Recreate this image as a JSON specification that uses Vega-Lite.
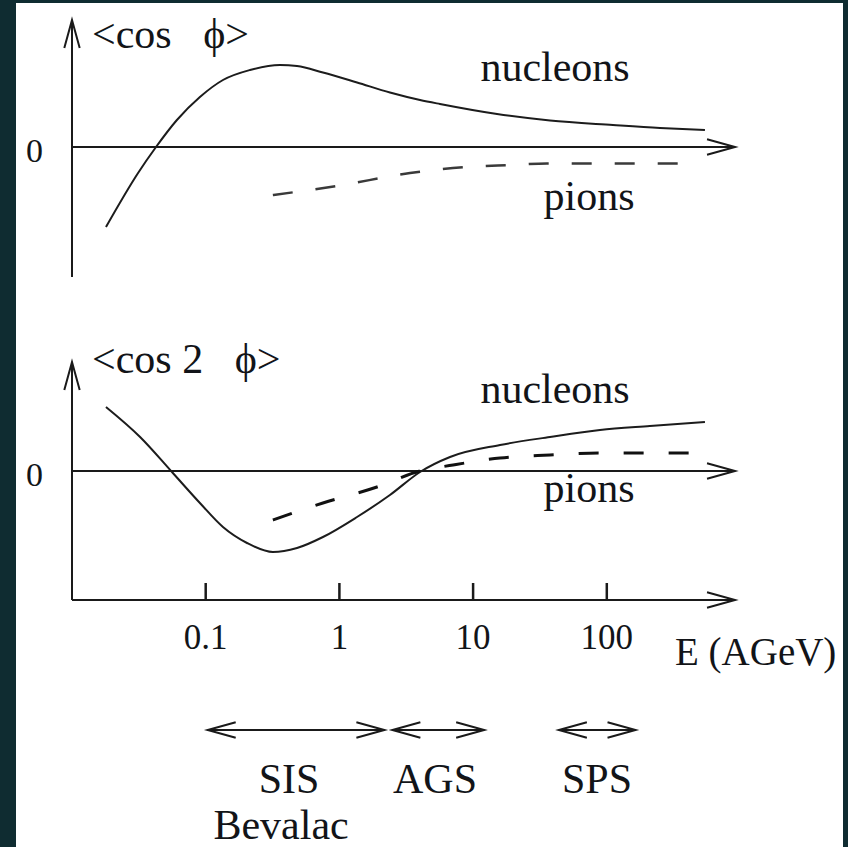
{
  "$schema": "https://vega.github.io/schema/vega-lite/v6.json",
  "width": 827,
  "height": 844,
  "autosize": {"type": "none"},
  "padding": {"left": 16, "top": 3, "right": 5, "bottom": 0},
  "background": "#0f2c31",
  "config": {
    "view": {"fill": "#ffffff", "stroke": null},
    "text": {"font": "Liberation Serif", "color": "#121418", "baseline": "alphabetic"}
  },
  "datasets": {
    "curves": [
      {"panel": "top", "species": "nucleons", "E": 0.01795, "v": -0.80},
      {"panel": "top", "species": "nucleons", "E": 0.0312, "v": -0.26},
      {"panel": "top", "species": "nucleons", "E": 0.0425, "v": 0.0},
      {"panel": "top", "species": "nucleons", "E": 0.0609, "v": 0.27},
      {"panel": "top", "species": "nucleons", "E": 0.0905, "v": 0.50},
      {"panel": "top", "species": "nucleons", "E": 0.1346, "v": 0.67},
      {"panel": "top", "species": "nucleons", "E": 0.2143, "v": 0.77},
      {"panel": "top", "species": "nucleons", "E": 0.3597, "v": 0.82},
      {"panel": "top", "species": "nucleons", "E": 0.4819, "v": 0.81},
      {"panel": "top", "species": "nucleons", "E": 0.7534, "v": 0.745},
      {"panel": "top", "species": "nucleons", "E": 1.355, "v": 0.645},
      {"panel": "top", "species": "nucleons", "E": 2.388, "v": 0.545},
      {"panel": "top", "species": "nucleons", "E": 4.009, "v": 0.47},
      {"panel": "top", "species": "nucleons", "E": 5.65, "v": 0.43},
      {"panel": "top", "species": "nucleons", "E": 15.1, "v": 0.33},
      {"panel": "top", "species": "nucleons", "E": 37.6, "v": 0.265},
      {"panel": "top", "species": "nucleons", "E": 111.2, "v": 0.22},
      {"panel": "top", "species": "nucleons", "E": 250, "v": 0.19},
      {"panel": "top", "species": "nucleons", "E": 542, "v": 0.17},
      {"panel": "top", "species": "pions", "E": 0.318, "v": -0.48},
      {"panel": "top", "species": "pions", "E": 0.959, "v": -0.39},
      {"panel": "top", "species": "pions", "E": 3.373, "v": -0.26},
      {"panel": "top", "species": "pions", "E": 9.0, "v": -0.20},
      {"panel": "top", "species": "pions", "E": 18.9, "v": -0.18},
      {"panel": "top", "species": "pions", "E": 35.7, "v": -0.165},
      {"panel": "top", "species": "pions", "E": 78.9, "v": -0.165},
      {"panel": "top", "species": "pions", "E": 419, "v": -0.165},
      {"panel": "bottom", "species": "nucleons", "E": 0.01795, "v": 0.64},
      {"panel": "bottom", "species": "nucleons", "E": 0.0323, "v": 0.34},
      {"panel": "bottom", "species": "nucleons", "E": 0.0568, "v": -0.02},
      {"panel": "bottom", "species": "nucleons", "E": 0.0905, "v": -0.32},
      {"panel": "bottom", "species": "nucleons", "E": 0.1346, "v": -0.56},
      {"panel": "bottom", "species": "nucleons", "E": 0.2037, "v": -0.72},
      {"panel": "bottom", "species": "nucleons", "E": 0.318, "v": -0.81},
      {"panel": "bottom", "species": "nucleons", "E": 0.4819, "v": -0.77},
      {"panel": "bottom", "species": "nucleons", "E": 0.7534, "v": -0.66},
      {"panel": "bottom", "species": "nucleons", "E": 1.355, "v": -0.46},
      {"panel": "bottom", "species": "nucleons", "E": 2.388, "v": -0.24},
      {"panel": "bottom", "species": "nucleons", "E": 4.009, "v": -0.01},
      {"panel": "bottom", "species": "nucleons", "E": 6.72, "v": 0.14},
      {"panel": "bottom", "species": "nucleons", "E": 15.9, "v": 0.26},
      {"panel": "bottom", "species": "nucleons", "E": 37.6, "v": 0.34},
      {"panel": "bottom", "species": "nucleons", "E": 88.9, "v": 0.41},
      {"panel": "bottom", "species": "nucleons", "E": 210, "v": 0.45},
      {"panel": "bottom", "species": "nucleons", "E": 542, "v": 0.49},
      {"panel": "bottom", "species": "pions", "E": 0.318, "v": -0.49},
      {"panel": "bottom", "species": "pions", "E": 0.7534, "v": -0.32},
      {"panel": "bottom", "species": "pions", "E": 1.91, "v": -0.16},
      {"panel": "bottom", "species": "pions", "E": 4.009, "v": 0.0},
      {"panel": "bottom", "species": "pions", "E": 7.08, "v": 0.06},
      {"panel": "bottom", "species": "pions", "E": 15.9, "v": 0.13},
      {"panel": "bottom", "species": "pions", "E": 37.6, "v": 0.16},
      {"panel": "bottom", "species": "pions", "E": 88.9, "v": 0.18},
      {"panel": "bottom", "species": "pions", "E": 419, "v": 0.18}
    ],
    "axes": [
      {"panel": "top", "dir": "up", "E": 0.01, "E2": 0.01, "v": -1.30, "v2": 1.27},
      {"panel": "top", "dir": "right", "E": 0.01, "E2": 910, "v": 0, "v2": 0},
      {"panel": "bottom", "dir": "up", "E": 0.01, "E2": 0.01, "v": -1.29, "v2": 1.09},
      {"panel": "bottom", "dir": "right", "E": 0.01, "E2": 910, "v": 0, "v2": 0},
      {"panel": "bottom", "dir": "right", "E": 0.01, "E2": 910, "v": -1.29, "v2": -1.29}
    ],
    "ticks": [
      {"E": 0.1, "label": "0.1"},
      {"E": 1, "label": "1"},
      {"E": 10, "label": "10"},
      {"E": 100, "label": "100"}
    ],
    "curveLabels": [
      {"panel": "top", "text": "nucleons", "E": 41.0, "v": 0.66},
      {"panel": "top", "text": "pions", "E": 73.6, "v": -0.63},
      {"panel": "bottom", "text": "nucleons", "E": 41.0, "v": 0.68},
      {"panel": "bottom", "text": "pions", "E": 73.6, "v": -0.31}
    ],
    "zeroLabels": [
      {"panel": "top", "text": "0", "E": 0.005241, "v": -0.147},
      {"panel": "bottom", "text": "0", "E": 0.005241, "v": -0.147}
    ],
    "titles": [
      {"panel": "top", "text": "<cos\u00a0\u00a0\u00a0ϕ>", "E": 0.01411, "v": 0.987},
      {"panel": "bottom", "text": "<cos 2\u00a0\u00a0\u00a0ϕ>", "E": 0.01411, "v": 0.977}
    ],
    "xTitle": [
      {"text": "E (AGeV)", "E": 323.6, "v": -1.94}
    ],
    "ranges": [
      {"name": "SIS", "from": 0.1035, "to": 2.17},
      {"name": "AGS", "from": 2.49, "to": 12.1},
      {"name": "SPS", "from": 43.8, "to": 164}
    ],
    "facilities": [
      {"text": "SIS", "E": 0.420, "v": -0.63},
      {"text": "AGS", "E": 5.19, "v": -0.63},
      {"text": "SPS", "E": 84.5, "v": -0.63},
      {"text": "Bevalac", "E": 0.366, "v": -1.09}
    ]
  },
  "layer": [
    {
      "description": "Upper panel: <cos phi> against beam energy",
      "layer": [
        {
          "data": {"name": "axes"},
          "transform": [{"filter": "datum.panel === 'top'"}],
          "mark": {"type": "rule", "color": "#1a1a1a", "strokeWidth": 2},
          "encoding": {
            "x": {"field": "E", "type": "quantitative", "scale": {"type": "log", "domain": [0.003812, 5843], "nice": false}, "axis": null},
            "x2": {"field": "E2"},
            "y": {"field": "v", "type": "quantitative", "scale": {"domain": [-7.0, 1.44], "nice": false, "zero": false}, "axis": null},
            "y2": {"field": "v2"}
          }
        },
        {
          "data": {"name": "axes"},
          "transform": [{"filter": "datum.panel === 'top' && datum.dir === 'up'"}],
          "mark": {"type": "point", "shape": "M-2,-0.55L0,0L-2,0.55", "size": 784, "filled": false, "strokeWidth": 2, "color": "#1a1a1a", "opacity": 1, "angle": 270},
          "encoding": {
            "x": {"field": "E2", "type": "quantitative", "scale": {"type": "log", "domain": [0.003812, 5843], "nice": false}, "axis": null},
            "y": {"field": "v2", "type": "quantitative", "scale": {"domain": [-7.0, 1.44], "nice": false, "zero": false}, "axis": null}
          }
        },
        {
          "data": {"name": "axes"},
          "transform": [{"filter": "datum.panel === 'top' && datum.dir === 'right'"}],
          "mark": {"type": "point", "shape": "M-2,-0.55L0,0L-2,0.55", "size": 784, "filled": false, "strokeWidth": 2, "color": "#1a1a1a", "opacity": 1, "angle": 0},
          "encoding": {
            "x": {"field": "E2", "type": "quantitative", "scale": {"type": "log", "domain": [0.003812, 5843], "nice": false}, "axis": null},
            "y": {"field": "v2", "type": "quantitative", "scale": {"domain": [-7.0, 1.44], "nice": false, "zero": false}, "axis": null}
          }
        },
        {
          "data": {"name": "curves"},
          "transform": [{"filter": "datum.panel === 'top' && datum.species === 'nucleons'"}],
          "mark": {"type": "line", "interpolate": "monotone", "color": "#1c1c1c", "strokeWidth": 2},
          "encoding": {
            "x": {"field": "E", "type": "quantitative", "scale": {"type": "log", "domain": [0.003812, 5843], "nice": false}, "axis": null},
            "y": {"field": "v", "type": "quantitative", "scale": {"domain": [-7.0, 1.44], "nice": false, "zero": false}, "axis": null}
          }
        },
        {
          "data": {"name": "curves"},
          "transform": [{"filter": "datum.panel === 'top' && datum.species === 'pions'"}],
          "mark": {"type": "line", "interpolate": "monotone", "color": "#3a3a3a", "strokeWidth": 2.5, "strokeDash": [20, 23]},
          "encoding": {
            "x": {"field": "E", "type": "quantitative", "scale": {"type": "log", "domain": [0.003812, 5843], "nice": false}, "axis": null},
            "y": {"field": "v", "type": "quantitative", "scale": {"domain": [-7.0, 1.44], "nice": false, "zero": false}, "axis": null}
          }
        },
        {
          "data": {"name": "curveLabels"},
          "transform": [{"filter": "datum.panel === 'top'"}],
          "mark": {"type": "text", "fontSize": 42, "align": "center"},
          "encoding": {
            "x": {"field": "E", "type": "quantitative", "scale": {"type": "log", "domain": [0.003812, 5843], "nice": false}, "axis": null},
            "y": {"field": "v", "type": "quantitative", "scale": {"domain": [-7.0, 1.44], "nice": false, "zero": false}, "axis": null},
            "text": {"field": "text"}
          }
        },
        {
          "data": {"name": "zeroLabels"},
          "transform": [{"filter": "datum.panel === 'top'"}],
          "mark": {"type": "text", "fontSize": 34, "align": "center"},
          "encoding": {
            "x": {"field": "E", "type": "quantitative", "scale": {"type": "log", "domain": [0.003812, 5843], "nice": false}, "axis": null},
            "y": {"field": "v", "type": "quantitative", "scale": {"domain": [-7.0, 1.44], "nice": false, "zero": false}, "axis": null},
            "text": {"field": "text"}
          }
        },
        {
          "data": {"name": "titles"},
          "transform": [{"filter": "datum.panel === 'top'"}],
          "mark": {"type": "text", "fontSize": 42, "align": "left"},
          "encoding": {
            "x": {"field": "E", "type": "quantitative", "scale": {"type": "log", "domain": [0.003812, 5843], "nice": false}, "axis": null},
            "y": {"field": "v", "type": "quantitative", "scale": {"domain": [-7.0, 1.44], "nice": false, "zero": false}, "axis": null},
            "text": {"field": "text"}
          }
        }
      ]
    },
    {
      "description": "Lower panel: <cos 2 phi> against beam energy, with the energy axis",
      "layer": [
        {
          "data": {"name": "axes"},
          "transform": [{"filter": "datum.panel === 'bottom'"}],
          "mark": {"type": "rule", "color": "#1a1a1a", "strokeWidth": 2},
          "encoding": {
            "x": {"field": "E", "type": "quantitative", "scale": {"type": "log", "domain": [0.003812, 5843], "nice": false}, "axis": null},
            "x2": {"field": "E2"},
            "y": {"field": "v", "type": "quantitative", "scale": {"domain": [-3.76, 4.68], "nice": false, "zero": false}, "axis": null},
            "y2": {"field": "v2"}
          }
        },
        {
          "data": {"name": "axes"},
          "transform": [{"filter": "datum.panel === 'bottom' && datum.dir === 'up'"}],
          "mark": {"type": "point", "shape": "M-2,-0.55L0,0L-2,0.55", "size": 784, "filled": false, "strokeWidth": 2, "color": "#1a1a1a", "opacity": 1, "angle": 270},
          "encoding": {
            "x": {"field": "E2", "type": "quantitative", "scale": {"type": "log", "domain": [0.003812, 5843], "nice": false}, "axis": null},
            "y": {"field": "v2", "type": "quantitative", "scale": {"domain": [-3.76, 4.68], "nice": false, "zero": false}, "axis": null}
          }
        },
        {
          "data": {"name": "axes"},
          "transform": [{"filter": "datum.panel === 'bottom' && datum.dir === 'right'"}],
          "mark": {"type": "point", "shape": "M-2,-0.55L0,0L-2,0.55", "size": 784, "filled": false, "strokeWidth": 2, "color": "#1a1a1a", "opacity": 1, "angle": 0},
          "encoding": {
            "x": {"field": "E2", "type": "quantitative", "scale": {"type": "log", "domain": [0.003812, 5843], "nice": false}, "axis": null},
            "y": {"field": "v2", "type": "quantitative", "scale": {"domain": [-3.76, 4.68], "nice": false, "zero": false}, "axis": null}
          }
        },
        {
          "data": {"name": "ticks"},
          "mark": {"type": "rule", "color": "#1a1a1a", "strokeWidth": 2.5},
          "encoding": {
            "x": {"field": "E", "type": "quantitative", "scale": {"type": "log", "domain": [0.003812, 5843], "nice": false}, "axis": null},
            "y": {"datum": -1.29, "type": "quantitative", "scale": {"domain": [-3.76, 4.68], "nice": false, "zero": false}, "axis": null},
            "y2": {"datum": -1.12}
          }
        },
        {
          "data": {"name": "ticks"},
          "mark": {"type": "text", "fontSize": 35, "align": "center"},
          "encoding": {
            "x": {"field": "E", "type": "quantitative", "scale": {"type": "log", "domain": [0.003812, 5843], "nice": false}, "axis": null},
            "y": {"datum": -1.78, "type": "quantitative", "scale": {"domain": [-3.76, 4.68], "nice": false, "zero": false}, "axis": null},
            "text": {"field": "label"}
          }
        },
        {
          "data": {"name": "curves"},
          "transform": [{"filter": "datum.panel === 'bottom' && datum.species === 'nucleons'"}],
          "mark": {"type": "line", "interpolate": "monotone", "color": "#1c1c1c", "strokeWidth": 2},
          "encoding": {
            "x": {"field": "E", "type": "quantitative", "scale": {"type": "log", "domain": [0.003812, 5843], "nice": false}, "axis": null},
            "y": {"field": "v", "type": "quantitative", "scale": {"domain": [-3.76, 4.68], "nice": false, "zero": false}, "axis": null}
          }
        },
        {
          "data": {"name": "curves"},
          "transform": [{"filter": "datum.panel === 'bottom' && datum.species === 'pions'"}],
          "mark": {"type": "line", "interpolate": "monotone", "color": "#111111", "strokeWidth": 3, "strokeDash": [20, 25]},
          "encoding": {
            "x": {"field": "E", "type": "quantitative", "scale": {"type": "log", "domain": [0.003812, 5843], "nice": false}, "axis": null},
            "y": {"field": "v", "type": "quantitative", "scale": {"domain": [-3.76, 4.68], "nice": false, "zero": false}, "axis": null}
          }
        },
        {
          "data": {"name": "curveLabels"},
          "transform": [{"filter": "datum.panel === 'bottom'"}],
          "mark": {"type": "text", "fontSize": 42, "align": "center"},
          "encoding": {
            "x": {"field": "E", "type": "quantitative", "scale": {"type": "log", "domain": [0.003812, 5843], "nice": false}, "axis": null},
            "y": {"field": "v", "type": "quantitative", "scale": {"domain": [-3.76, 4.68], "nice": false, "zero": false}, "axis": null},
            "text": {"field": "text"}
          }
        },
        {
          "data": {"name": "zeroLabels"},
          "transform": [{"filter": "datum.panel === 'bottom'"}],
          "mark": {"type": "text", "fontSize": 34, "align": "center"},
          "encoding": {
            "x": {"field": "E", "type": "quantitative", "scale": {"type": "log", "domain": [0.003812, 5843], "nice": false}, "axis": null},
            "y": {"field": "v", "type": "quantitative", "scale": {"domain": [-3.76, 4.68], "nice": false, "zero": false}, "axis": null},
            "text": {"field": "text"}
          }
        },
        {
          "data": {"name": "titles"},
          "transform": [{"filter": "datum.panel === 'bottom'"}],
          "mark": {"type": "text", "fontSize": 42, "align": "left"},
          "encoding": {
            "x": {"field": "E", "type": "quantitative", "scale": {"type": "log", "domain": [0.003812, 5843], "nice": false}, "axis": null},
            "y": {"field": "v", "type": "quantitative", "scale": {"domain": [-3.76, 4.68], "nice": false, "zero": false}, "axis": null},
            "text": {"field": "text"}
          }
        },
        {
          "data": {"name": "xTitle"},
          "mark": {"type": "text", "fontSize": 39, "align": "left"},
          "encoding": {
            "x": {"field": "E", "type": "quantitative", "scale": {"type": "log", "domain": [0.003812, 5843], "nice": false}, "axis": null},
            "y": {"field": "v", "type": "quantitative", "scale": {"domain": [-3.76, 4.68], "nice": false, "zero": false}, "axis": null},
            "text": {"field": "text"}
          }
        }
      ]
    },
    {
      "description": "Energy ranges covered by the accelerators",
      "layer": [
        {
          "data": {"name": "ranges"},
          "mark": {"type": "rule", "color": "#1a1a1a", "strokeWidth": 2},
          "encoding": {
            "x": {"field": "from", "type": "quantitative", "scale": {"type": "log", "domain": [0.003812, 5843], "nice": false}, "axis": null},
            "x2": {"field": "to"},
            "y": {"datum": 0, "type": "quantitative", "scale": {"domain": [-1.17, 7.27], "nice": false, "zero": false}, "axis": null}
          }
        },
        {
          "data": {"name": "ranges"},
          "mark": {"type": "point", "shape": "M-2,-0.55L0,0L-2,0.55", "size": 784, "filled": false, "strokeWidth": 2, "color": "#1a1a1a", "opacity": 1, "angle": 180},
          "encoding": {
            "x": {"field": "from", "type": "quantitative", "scale": {"type": "log", "domain": [0.003812, 5843], "nice": false}, "axis": null},
            "y": {"datum": 0, "type": "quantitative", "scale": {"domain": [-1.17, 7.27], "nice": false, "zero": false}, "axis": null}
          }
        },
        {
          "data": {"name": "ranges"},
          "mark": {"type": "point", "shape": "M-2,-0.55L0,0L-2,0.55", "size": 784, "filled": false, "strokeWidth": 2, "color": "#1a1a1a", "opacity": 1, "angle": 0},
          "encoding": {
            "x": {"field": "to", "type": "quantitative", "scale": {"type": "log", "domain": [0.003812, 5843], "nice": false}, "axis": null},
            "y": {"datum": 0, "type": "quantitative", "scale": {"domain": [-1.17, 7.27], "nice": false, "zero": false}, "axis": null}
          }
        },
        {
          "data": {"name": "facilities"},
          "mark": {"type": "text", "fontSize": 42, "align": "center"},
          "encoding": {
            "x": {"field": "E", "type": "quantitative", "scale": {"type": "log", "domain": [0.003812, 5843], "nice": false}, "axis": null},
            "y": {"field": "v", "type": "quantitative", "scale": {"domain": [-1.17, 7.27], "nice": false, "zero": false}, "axis": null},
            "text": {"field": "text"}
          }
        }
      ]
    }
  ],
  "resolve": {"scale": {"y": "independent"}}
}
